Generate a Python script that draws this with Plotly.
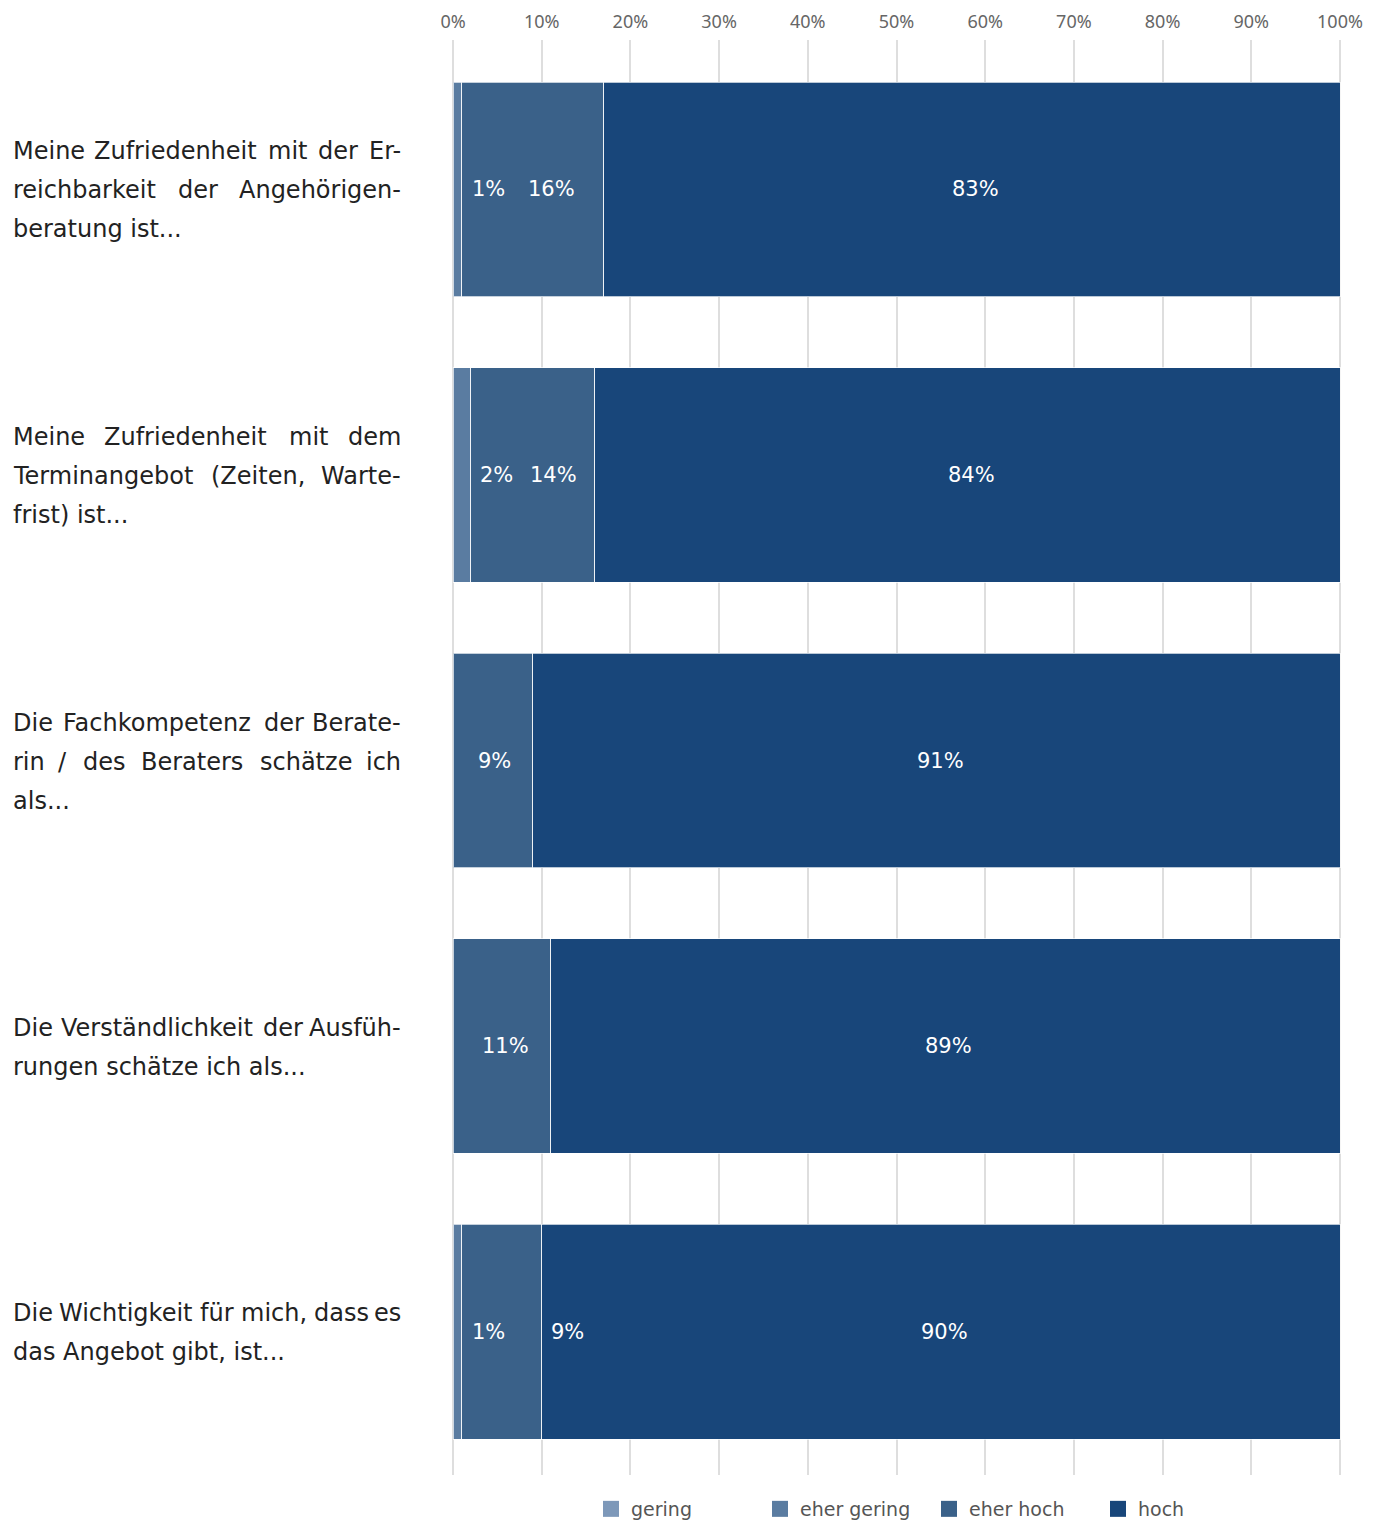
import plotly.graph_objects as go

# ---------------- data ----------------
categories = ["Q1", "Q2", "Q3", "Q4", "Q5"]
label_lines = [
    ["Meine Zufriedenheit mit der Er-", "reichbarkeit der Angehörigen-", "beratung ist..."],
    ["Meine Zufriedenheit mit dem", "Terminangebot (Zeiten, Warte-", "frist) ist..."],
    ["Die Fachkompetenz der Berate-", "rin / des Beraters schätze ich", "als..."],
    ["Die Verständlichkeit der Ausfüh-", "rungen schätze ich als..."],
    ["Die Wichtigkeit für mich, dass es", "das Angebot gibt, ist..."],
]
series_names = ["gering", "eher gering", "eher hoch", "hoch"]
gering = [0, 0, 0, 0, 0]
eher_gering = [1, 2, 0, 0, 1]
eher_hoch = [16, 14, 9, 11, 9]
hoch = [83, 84, 91, 89, 90]
tick_vals = [0, 10, 20, 30, 40, 50, 60, 70, 80, 90, 100]
tick_text = ["0%", "10%", "20%", "30%", "40%", "50%", "60%", "70%", "80%", "90%", "100%"]

# ---------------- style ----------------
colors = ["#7d98b9", "#5a7ca1", "#3a6189", "#18467a"]
label_xshift = [  # pixel nudges of the value labels (style only)
    [0, 0, 0, 0, 0],
    [31, 35, 0, 0, 31],
    [19, 21, 2, 4, 66],
    [4, 4, 4, 3, 4],
]
W, H = 1384, 1521
L, R, T, B = 451, 42, 40, 46
PW = W - L - R
X_PAD = 2 * 100 / (PW - 4)   # 2 px of padding on each side so edge gridlines show
FONT = "DejaVu Sans, sans-serif"
LBL_SIZE = 24

series_values = [gering, eher_gering, eher_hoch, hoch]

fig = go.Figure()
for name, vals, col in zip(series_names, series_values, colors):
    fig.add_trace(go.Bar(
        y=categories, x=vals, orientation="h", name=name,
        marker=dict(color=col, line=dict(color="rgba(255,255,255,0.7)", width=1)),
        width=0.753, showlegend=False, hoverinfo="x+name",
    ))
# legend proxies (bigger squares)
for name, col in zip(series_names, colors):
    fig.add_trace(go.Scatter(
        x=[None], y=[None], mode="markers", name=name,
        marker=dict(symbol="square", size=16, color=col),
    ))

annotations = []
# value labels
for i, cat in enumerate(categories):
    cum = 0
    for s, vals in enumerate(series_values):
        v = vals[i]
        if v > 0:
            annotations.append(dict(
                x=cum + v / 2, y=cat, xref="x", yref="y", text=f"{v}%",
                showarrow=False, xshift=label_xshift[s][i],
                font=dict(family=FONT, size=21, color="white"),
            ))
        cum += v

# category labels (justified lines emulated word by word)
# DejaVu Sans advance widths (em)
CW = {' ': .318, 'a': .613, 'b': .635, 'c': .550, 'd': .635, 'e': .615, 'f': .352,
      'g': .635, 'h': .634, 'i': .278, 'j': .278, 'k': .579, 'l': .278, 'm': .974,
      'n': .634, 'o': .612, 'p': .635, 'q': .635, 'r': .411, 's': .521, 't': .392,
      'u': .634, 'v': .592, 'w': .818, 'x': .592, 'y': .592, 'z': .525,
      'ä': .613, 'ö': .612, 'ü': .634,
      'A': .684, 'B': .686, 'C': .698, 'D': .770, 'E': .632, 'F': .575, 'G': .775,
      'H': .752, 'I': .295, 'M': .863, 'T': .611, 'V': .684, 'W': .989, 'Z': .685,
      '-': .361, '.': .318, ',': .318, '(': .390, ')': .390, '/': .337}


def est_width(s):
    return sum(CW.get(ch, 0.6) for ch in s) * LBL_SIZE


def px2paper(px):
    return (px - L) / PW


X0, X1 = 11, 403
LINE_H = 39
Y_NUDGE = -1
for i, cat in enumerate(categories):
    lines = label_lines[i]
    n = len(lines)
    for k, line in enumerate(lines):
        yshift = -(k - (n - 1) / 2) * LINE_H + Y_NUDGE
        justify = k < n - 1
        words = line.split(" ")
        if not justify or len(words) == 1:
            annotations.append(dict(
                x=px2paper(X0), y=cat, xref="paper", yref="y", text=line,
                xanchor="left", showarrow=False, yshift=yshift,
                font=dict(family=FONT, size=LBL_SIZE, color="#222"),
            ))
            continue
        widths = [est_width(w) for w in words]
        gap = (X1 - X0 - sum(widths)) / (len(words) - 1)
        pos = X0
        for j, (wd, wdt) in enumerate(zip(words, widths)):
            if j == 0:
                x, anchor = pos, "left"
            elif j == len(words) - 1:
                x, anchor = X1, "right"
            else:
                x, anchor = pos + wdt / 2, "center"
            annotations.append(dict(
                x=px2paper(x), y=cat, xref="paper", yref="y", text=wd,
                xanchor=anchor, showarrow=False, yshift=yshift,
                font=dict(family=FONT, size=LBL_SIZE, color="#222"),
            ))
            pos += wdt + gap

plot_h = H - T - B
fig.update_layout(
    width=W, height=H, barmode="stack",
    margin=dict(l=L, r=R, t=T, b=B, pad=0, autoexpand=False),
    plot_bgcolor="white", paper_bgcolor="white",
    font=dict(family=FONT),
    xaxis=dict(
        side="top", range=[-X_PAD, 100 + X_PAD], tickvals=tick_vals, ticktext=tick_text,
        showgrid=True, gridcolor="#dedede", gridwidth=2, zeroline=False,
        ticks="outside", ticklen=4, tickcolor="rgba(0,0,0,0)",
        tickfont=dict(family="Noto Sans, sans-serif", size=18, color="#666"),
        fixedrange=True, automargin=False,
    ),
    yaxis=dict(
        range=[4.5026, -0.5236], showticklabels=False, showgrid=False,
        zeroline=False, categoryorder="array", categoryarray=categories,
        fixedrange=True, automargin=False,
    ),
    legend=dict(
        orientation="h", x=(591 - L) / PW, xanchor="left",
        y=-(B + 7) / plot_h, yanchor="bottom", traceorder="normal",
        entrywidth=124, entrywidthmode="pixels",
        font=dict(family=FONT, size=19, color="#555"),
        itemclick=False, itemdoubleclick=False, tracegroupgap=0,
    ),
    annotations=annotations,
    showlegend=True,
)

fig.write_html("out.html")
